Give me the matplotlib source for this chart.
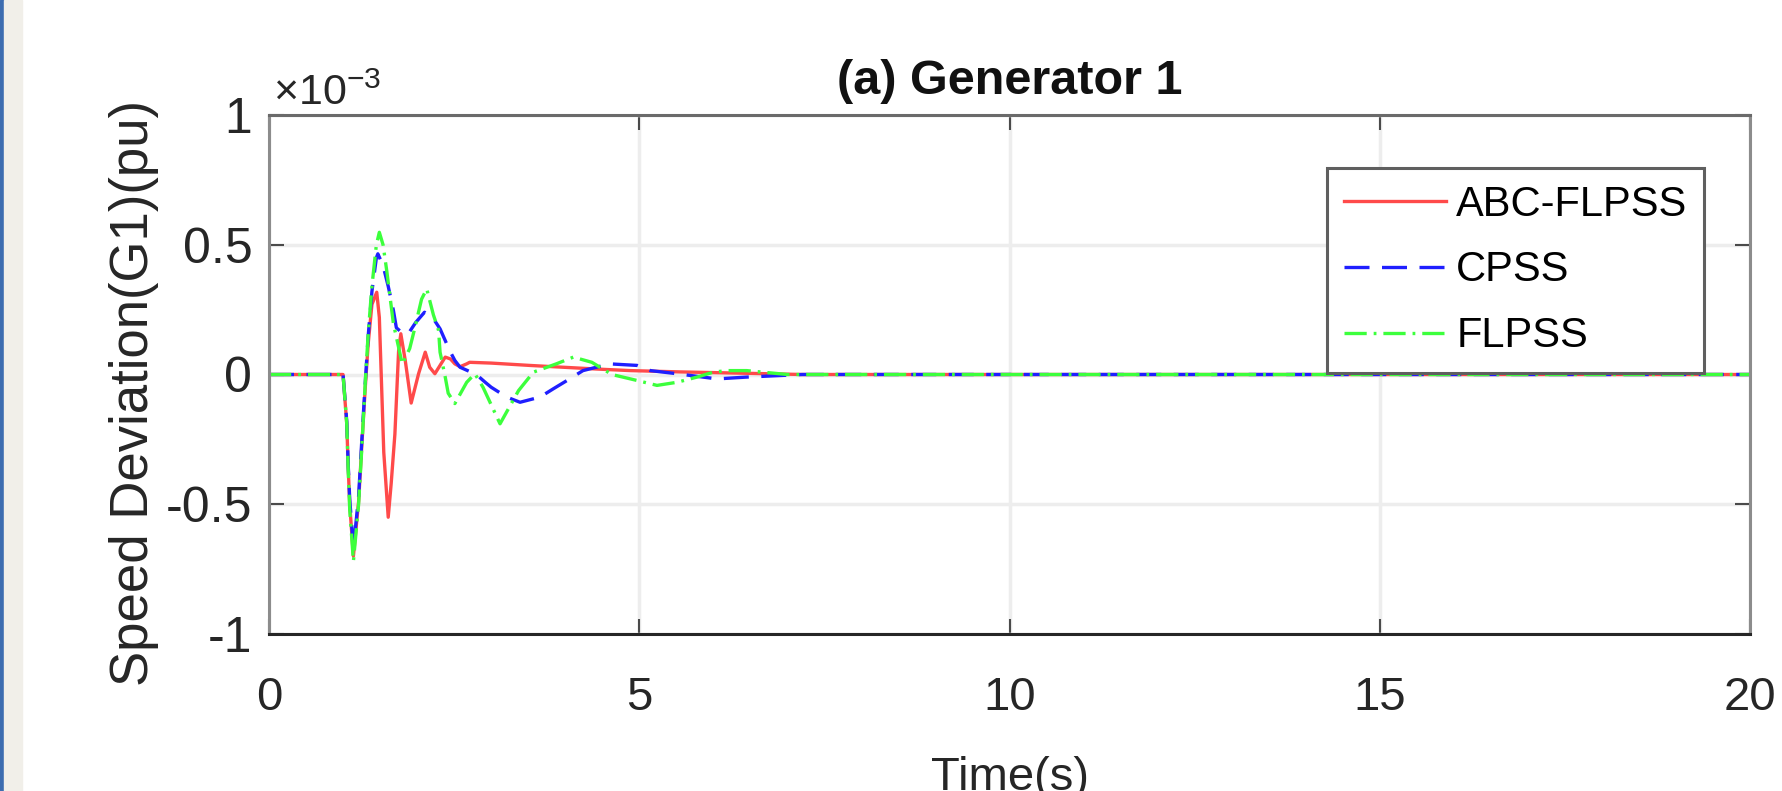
import matplotlib
matplotlib.use('Agg')
import matplotlib.pyplot as plt
from matplotlib.patches import Rectangle

plt.rcParams['font.family'] = ['Liberation Sans', 'DejaVu Sans']
plt.rcParams['axes.unicode_minus'] = False
plt.rcParams['lines.scale_dashes'] = False
plt.rcParams['mathtext.fontset'] = 'custom'
plt.rcParams['mathtext.rm'] = 'Liberation Sans'

# speed deviation of generator 1, values in 1e-3 pu
t_abc = [0, 1.0, 1.05, 1.07, 1.09, 1.14, 1.21, 1.25, 1.30, 1.34, 1.39, 1.455, 1.49, 1.52,
         1.55, 1.61, 1.65, 1.70, 1.75, 1.78, 1.84, 1.92, 2.02, 2.11, 2.17, 2.24, 2.38, 2.45,
         2.51, 2.58, 2.67, 2.71, 3.0, 3.52, 3.97, 4.43, 4.88, 5.55, 6.23, 7.2, 20]
v_abc = [0, 0, -0.19, -0.36, -0.50, -0.70, -0.49, -0.29, -0.05, 0.12, 0.27, 0.317, 0.22, -0.04,
         -0.30, -0.55, -0.42, -0.23, 0.09, 0.157, 0.054, -0.11, 0.003, 0.086, 0.028, 0.003, 0.067, 0.06,
         0.041, 0.03, 0.041, 0.047, 0.044, 0.035, 0.028, 0.021, 0.015, 0.010, 0.006, 0.0, 0.0]

t_cpss = [0, 1.0, 1.05, 1.07, 1.09, 1.14, 1.21, 1.25, 1.30, 1.34, 1.39, 1.45, 1.47, 1.54, 1.61,
          1.68, 1.72, 1.80, 1.88, 1.98, 2.10, 2.22, 2.31, 2.44, 2.51, 2.58, 2.80, 2.92, 3.0, 3.21,
          3.39, 3.66, 3.84, 4.06, 4.24, 4.60, 4.97, 5.15, 5.51, 6.05, 6.45, 7.2, 20]
v_cpss = [0, 0, -0.18, -0.35, -0.48, -0.67, -0.47, -0.27, -0.03, 0.15, 0.32, 0.45, 0.465, 0.42, 0.34,
          0.247, 0.18, 0.16, 0.157, 0.20, 0.24, 0.215, 0.176, 0.092, 0.054, 0.028, 0.0, -0.03, -0.049, -0.087,
          -0.107, -0.087, -0.055, -0.017, 0.015, 0.041, 0.035, 0.015, 0.003, -0.017, -0.01, 0.0, 0.0]

t_fl = [0, 1.0, 1.05, 1.07, 1.09, 1.14, 1.21, 1.25, 1.30, 1.34, 1.39, 1.45, 1.49, 1.54, 1.59,
        1.68, 1.80, 1.90, 1.97, 2.06, 2.13, 2.22, 2.29, 2.31, 2.38, 2.42, 2.51, 2.67, 2.78, 2.89,
        3.12, 3.37, 3.57, 3.88, 4.11, 4.36, 4.63, 4.97, 5.24, 5.51, 5.78, 6.0, 6.18, 6.45, 7.0, 20]
v_fl = [0, 0, -0.19, -0.37, -0.52, -0.72, -0.50, -0.30, -0.03, 0.16, 0.34, 0.50, 0.548, 0.50, 0.40,
        0.196, 0.04, 0.10, 0.18, 0.29, 0.33, 0.23, 0.17, 0.086, -0.01, -0.072, -0.112, -0.03, 0.003, -0.049,
        -0.19, -0.062, 0.009, 0.041, 0.067, 0.047, 0.0, -0.023, -0.042, -0.03, -0.01, 0.009, 0.015, 0.015, 0.0, 0.0]

labels = ['ABC-FLPSS', 'CPSS', 'FLPSS']
xticks = [0, 5, 10, 15, 20]
yticks = [-1, -0.5, 0, 0.5, 1]
ytick_labels = ['-1', '-0.5', '0', '0.5', '1']

fig = plt.figure(figsize=(17.82, 7.91), dpi=100)
ax = fig.add_axes([269/1782, 1 - 634/791, (1750 - 269)/1782, (634 - 115)/791])

ax.plot(t_abc, v_abc, color='#ff4a4a', lw=2.4, label=labels[0])
ax.plot(t_cpss, v_cpss, color='#1f1fff', lw=2.4, dashes=(18, 9), label=labels[1])
ax.plot(t_fl, v_fl, color='#3cff3c', lw=2.4, dashes=(16, 5, 2, 5), label=labels[2])

ax.set_xlim(0, 20)
ax.set_ylim(-1, 1)
ax.set_xticks(xticks)
ax.set_yticks(yticks)
ax.set_yticklabels(ytick_labels)
ax.grid(True, color='#ededed', lw=2.5)
ax.set_axisbelow(True)

ax.tick_params(direction='in', length=11, width=1.5, color='#4a4a4a',
               top=True, right=True, labelcolor='#262626')
ax.tick_params(axis='x', pad=30, labelsize=34)
ax.tick_params(axis='y', pad=12, labelsize=36)

ax.spines['bottom'].set_color('#262626')
ax.spines['top'].set_color('#6a6a6a')
ax.spines['left'].set_color('#8c8c8c')
ax.spines['right'].set_color('#8c8c8c')
for s in ax.spines.values():
    s.set_linewidth(2.2)

leg = ax.legend(loc='upper right', bbox_to_anchor=(0.969, 0.898), fancybox=False,
                framealpha=1, edgecolor='#5f5f5f', handlelength=2.45, handletextpad=0.25,
                labelspacing=0.62, borderpad=0.4, borderaxespad=0,
                prop={'size': 30})
leg.get_frame().set_linewidth(2.2)

fig.text(1010/1782, 1 - 94/791, '(a) Generator 1', ha='center', va='baseline',
         fontsize=35, fontweight='bold', color='#111111')
fig.text(273/1782, 1 - 105/791, r'$\mathregular{\times 10^{-3}}$', ha='left', va='baseline',
         fontsize=31, color='#262626')
fig.text(134/1782, 1 - 393/791, 'Speed Deviation(G1)(pu)', rotation=90, ha='center',
         va='center', fontsize=38, color='#262626')
fig.text(1010/1782, 1 - 790/791, 'Time(s)', ha='center', va='baseline',
         fontsize=34, color='#262626')

# screenshot border on the left
fig.patches.append(Rectangle((0, 0), 4/1782, 1, transform=fig.transFigure,
                             color='#3d6db0', zorder=0))
fig.patches.append(Rectangle((4/1782, 0), 18/1782, 1, transform=fig.transFigure,
                             color='#f1efe9', zorder=0))

fig.savefig('out.png', dpi=100)
